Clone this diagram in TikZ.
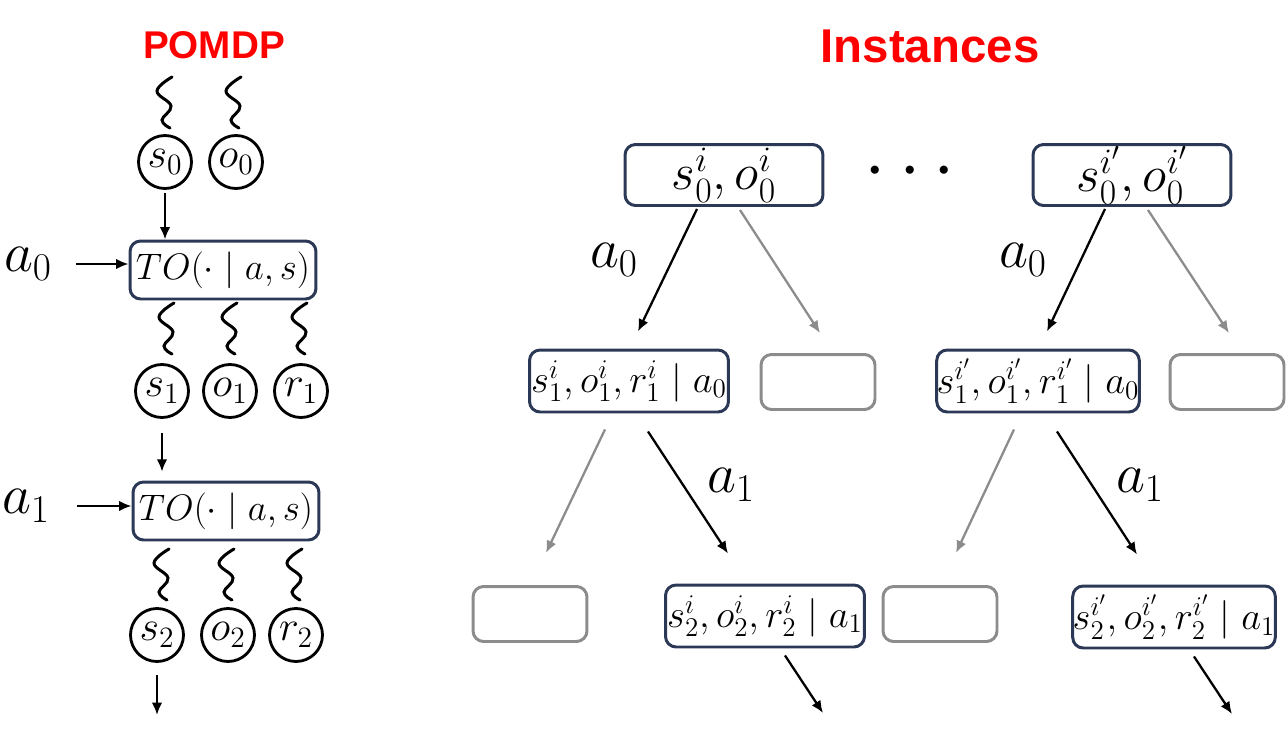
\RequirePackage{fix-cm}
\documentclass[tikz,border=0pt]{standalone}
\usepackage{fontspec}
\newfontfamily\titlefont{Liberation Sans}
\usetikzlibrary{calc,arrows.meta}

\definecolor{boxblue}{HTML}{2B3856}
\definecolor{leafgray}{HTML}{8C8C8C}
\definecolor{titlered}{HTML}{FF0000}

\tikzset{
  arr/.style={-{Latex[length=7pt,width=6pt]}, line width=1.3pt},
  grayarr/.style={arr, leafgray},
  varnode/.style={circle, draw, line width=1.6pt, minimum size=1.06cm, inner sep=0pt,
    font=\fontsize{24}{26}\selectfont},
  tobox/.style={draw=boxblue, line width=1.7pt, rounded corners=6pt, inner sep=0pt,
    minimum width=3.72cm, minimum height=1.16cm, font=\fontsize{21}{24}\selectfont},
  rootbox/.style={draw=boxblue, line width=1.7pt, rounded corners=6pt, inner sep=0pt,
    minimum width=3.96cm, minimum height=1.22cm, font=\fontsize{29}{32}\selectfont},
  instbox/.style={draw=boxblue, line width=1.7pt, rounded corners=6pt, inner sep=0pt,
    minimum width=3.98cm, minimum height=1.24cm, font=\fontsize{22}{24}\selectfont},
  emptybox/.style={draw=leafgray, line width=1.7pt, rounded corners=6pt,
    minimum width=2.28cm, minimum height=1.1cm},
  actlabel/.style={font=\fontsize{32}{36}\selectfont},
  squig/.pic={\draw[line width=1.7pt, line cap=round] plot[smooth, tension=0.7]
    coordinates {(7,-26) (-8,-12) (6,3) (-3,17) (5,25)};}
}

\begin{document}
\begin{tikzpicture}[x=0.02cm, y=-0.02cm]
\useasboundingbox (0,0) rectangle (1286,730);

% titles
\node[text=titlered, font=\titlefont\bfseries\fontsize{22}{26}\selectfont] (pomdp) at (214,45) {POMDP};
\node[text=titlered, font=\titlefont\bfseries\fontsize{27}{32}\selectfont] (inst) at (930,46) {Instances};

% POMDP chain, step 0
\path
(165,103) pic {squig}
(234,103) pic {squig}
(165,162) node[varnode] (s0) {$s_0$}
(236,162) node[varnode] (o0) {$o_0$};

\node[tobox] (to1) at (223,270) {$TO(\cdot \mid a, s)$};
\node[actlabel] (a0) at (28,264) {$a_0$};
\draw[arr, shorten <=2pt] (s0) -- (s0 |- to1.north);
\draw[arr, shorten <=10pt] (a0.east) -- (a0.east -| to1.west);

% step 1
\path
(167,329) pic {squig}
(230,329) pic {squig}
(300,329) pic {squig}
(162,391) node[varnode] (s1) {$s_1$}
(230,391) node[varnode] (o1) {$o_1$}
(301,391) node[varnode] (r1) {$r_1$};

\node[tobox] (to2) at (226,511) {$TO(\cdot \mid a, s)$};
\node[actlabel] (a1) at (26,506) {$a_1$};
\draw[arr, shorten <=8pt, shorten >=5pt] (s1) -- (s1 |- to2.north);
\draw[arr, shorten <=12pt] (a1.east) -- (a1.east -| to2.west);

% step 2
\path
(162,575) pic {squig}
(227,575) pic {squig}
(295,575) pic {squig}
(157,635) node[varnode] (s2) {$s_2$}
(228,635) node[varnode] (o2) {$o_2$}
(296,635) node[varnode] (r2) {$r_2$};
\coordinate (s3) at (157,715);
\draw[arr, shorten <=7pt] (s2) -- (s3);

% instance i
\node[rootbox] (rootA) at (724,175) {$s_0^i, o_0^i$};
\node[instbox] (oneA) at (629,381) {$s_1^i, o_1^i, r_1^i \mid a_0$};
\node[emptybox] (oneAx) at (818,382) {};
\node[emptybox] (twoAx) at (530,614) {};
\node[instbox] (twoA) at (765,616) {$s_2^i, o_2^i, r_2^i \mid a_1$};
\coordinate (endA) at (823,713);

\draw[arr] ($(rootA.south)+(-27,2)$) -- ($(oneA.north)+(9,-17)$);
\draw[grayarr] ($(rootA.south)+(16,3)$) -- ($(oneAx.north)+(2,-20)$);
\node[actlabel] (actA0) at (614,260) {$a_0$};
\draw[grayarr] ($(oneA.south)+(-24,16)$) -- ($(twoAx.north)+(16,-32)$);
\draw[arr] ($(oneA.south)+(19,18)$) -- ($(twoA.north)+(-37,-30)$);
\node[actlabel] (actA1) at (731,485) {$a_1$};
\draw[arr] ($(twoA.south)+(20,7)$) -- (endA);

% dots between instances
\node[font=\fontsize{44}{48}\selectfont] (dots) at (910,172) {$\cdots$};

% instance i'
\node[rootbox] (rootB) at (1132,175) {$s_0^{i'}, o_0^{i'}$};
\node[instbox] (oneB) at (1038,381) {$s_1^{i'}, o_1^{i'}, r_1^{i'} \mid a_0$};
\node[emptybox] (oneBx) at (1227,382) {};
\node[emptybox] (twoBx) at (940,614) {};
\node[instbox] (twoB) at (1174,617) {$s_2^{i'}, o_2^{i'}, r_2^{i'} \mid a_1$};
\coordinate (endB) at (1232,714);

\draw[arr] ($(rootB.south)+(-27,2)$) -- ($(oneB.north)+(9,-17)$);
\draw[grayarr] ($(rootB.south)+(16,3)$) -- ($(oneBx.north)+(2,-20)$);
\node[actlabel] (actB0) at (1023,260) {$a_0$};
\draw[grayarr] ($(oneB.south)+(-24,16)$) -- ($(twoBx.north)+(16,-32)$);
\draw[arr] ($(oneB.south)+(19,18)$) -- ($(twoB.north)+(-37,-30)$);
\node[actlabel] (actB1) at (1140,485) {$a_1$};
\draw[arr] ($(twoB.south)+(20,7)$) -- (endB);

\end{tikzpicture}
\end{document}
